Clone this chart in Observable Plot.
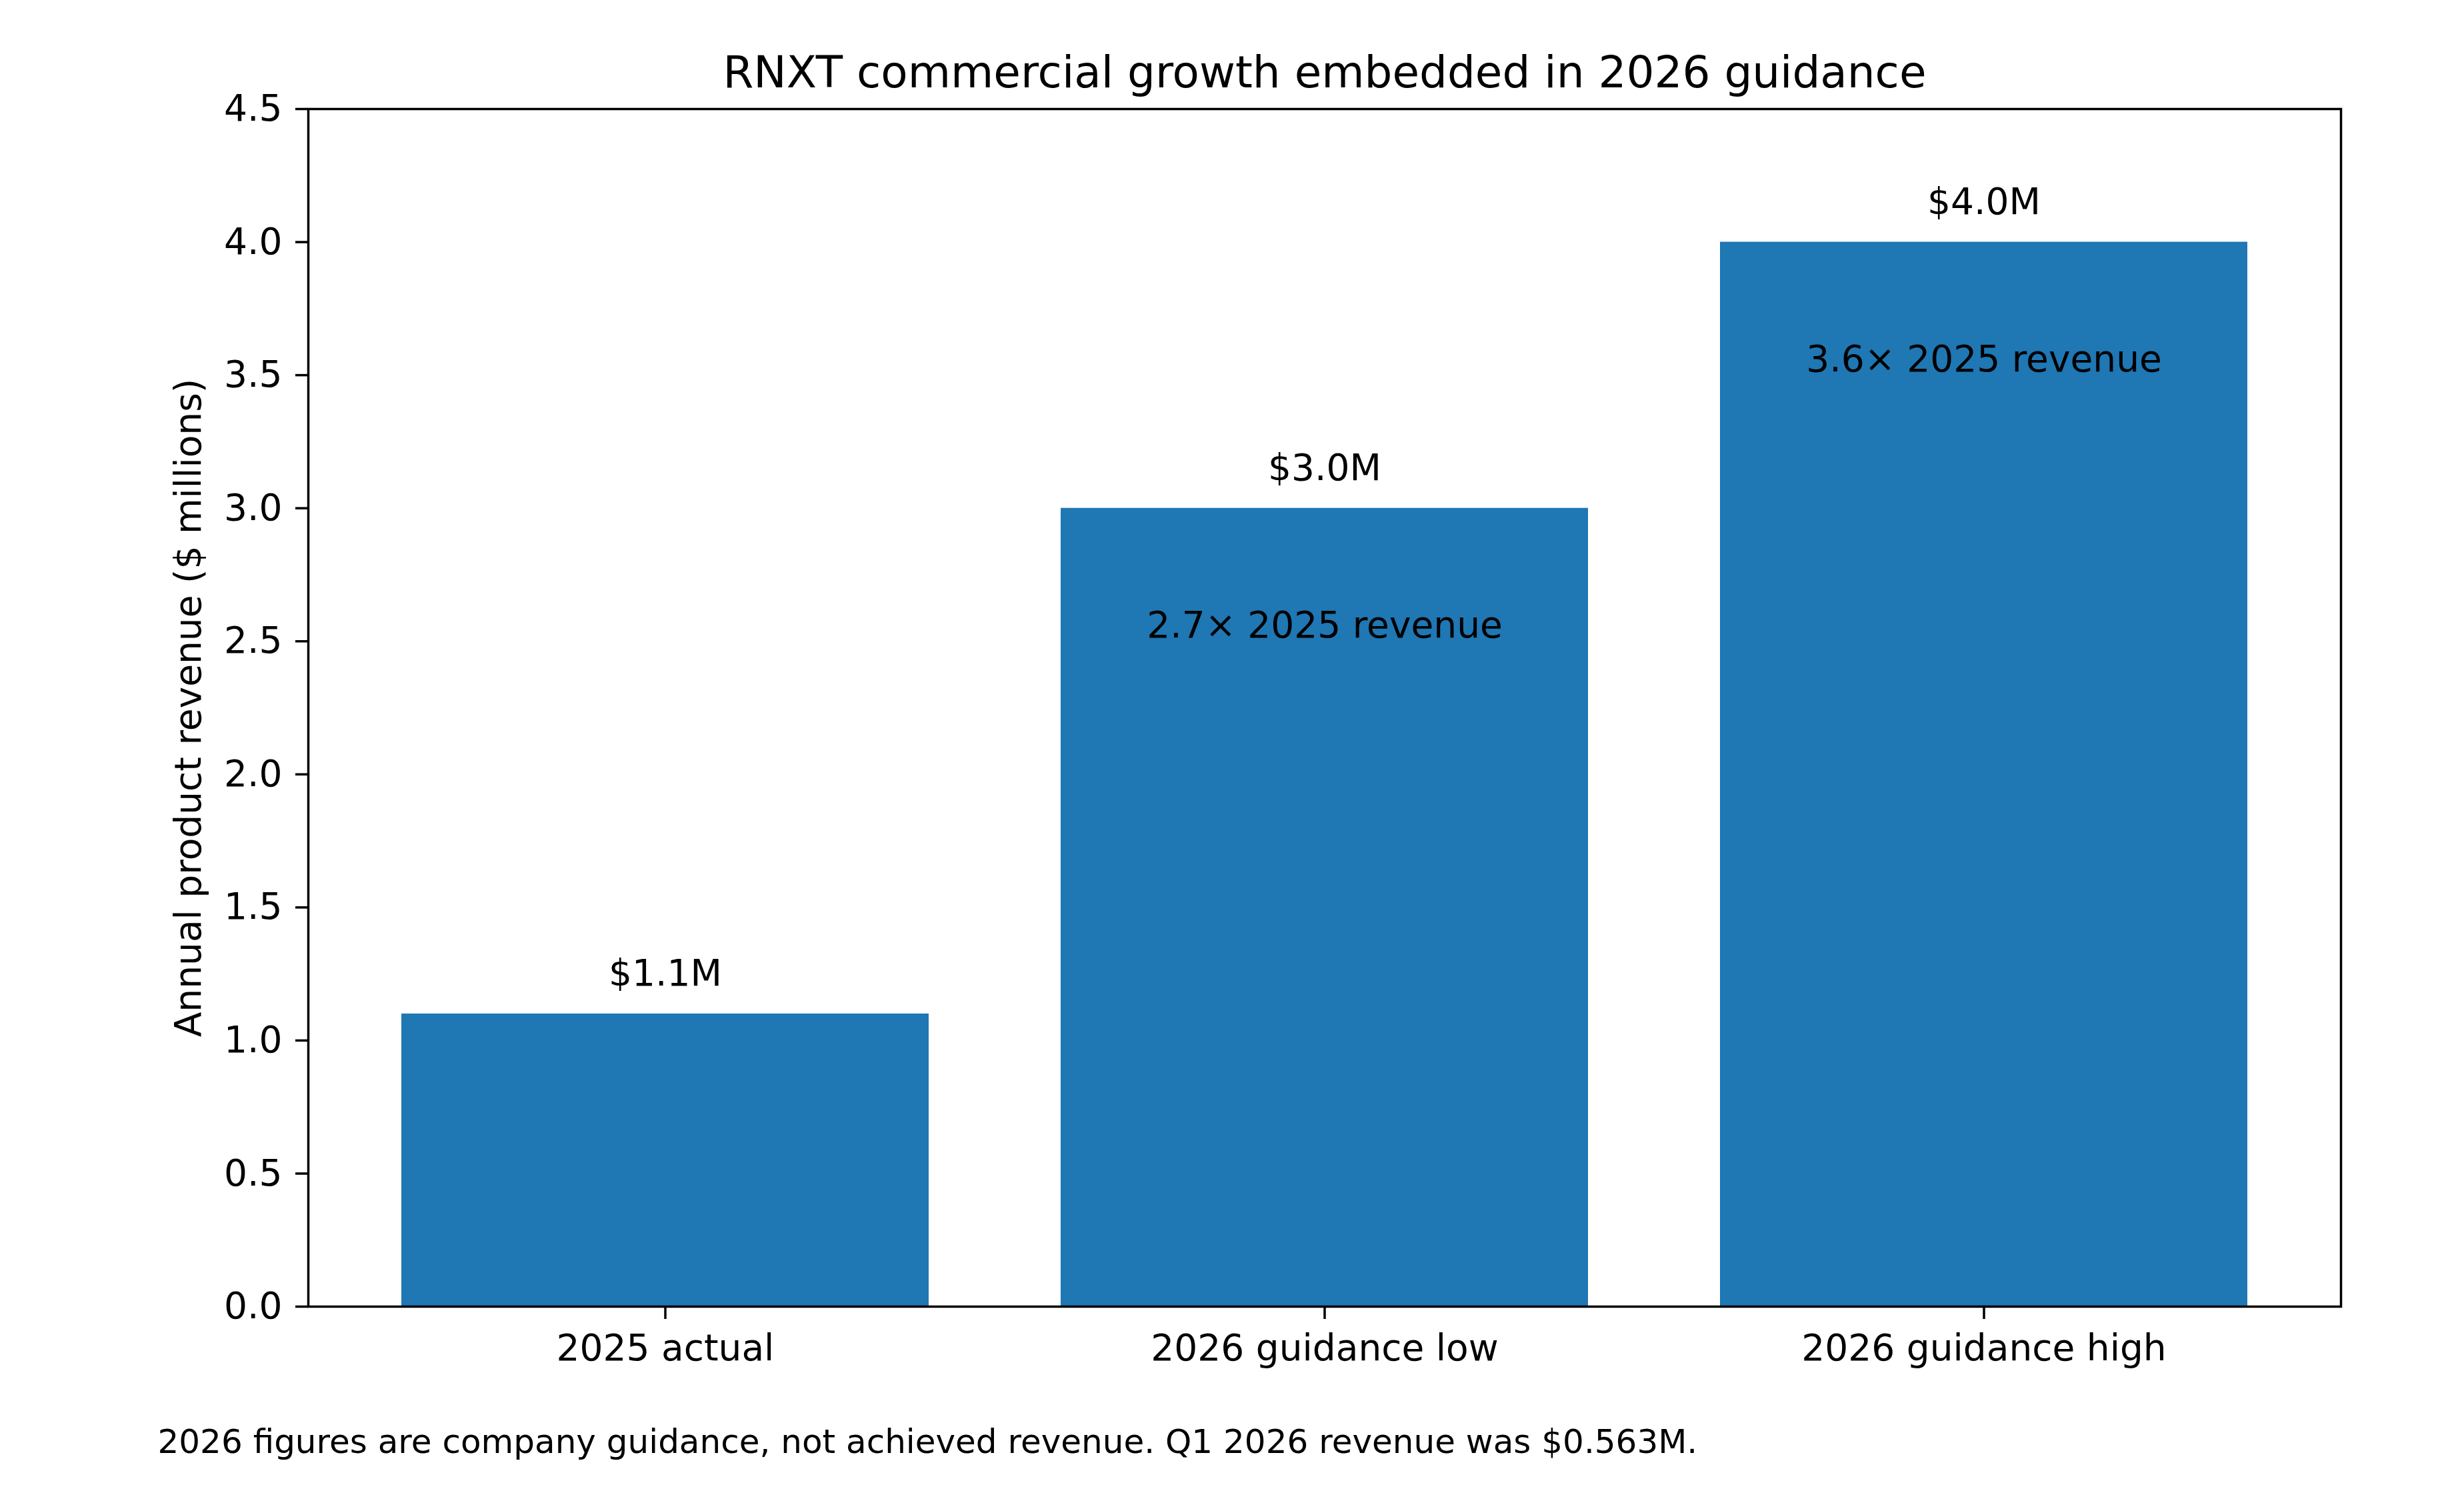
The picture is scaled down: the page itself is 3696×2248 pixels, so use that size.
<!DOCTYPE html>
<html>
<head>
<meta charset="utf-8">
<script src="https://cdn.jsdelivr.net/npm/d3@7"></script>
<script src="https://cdn.jsdelivr.net/npm/@observablehq/plot@0.6"></script>
<style>
  html, body { margin: 0; padding: 0; background: #ffffff; overflow: hidden; }
  #chart svg { display: block; }
</style>
</head>
<body>
<div id="chart"></div>
<script>
const titleText = "RNXT commercial growth embedded in 2026 guidance";
const yLabelText = "Annual product revenue ($ millions)";
const captionText = "2026 figures are company guidance, not achieved revenue. Q1 2026 revenue was $0.563M.";

const categories = ["2025 actual", "2026 guidance low", "2026 guidance high"];
const revenue = [1.1, 3.0, 4.0];
const valueLabels = ["$1.1M", "$3.0M", "$4.0M"];
const multipleLabels = ["", "2.7× 2025 revenue", "3.6× 2025 revenue"];
const yTicks = [0, 0.5, 1.0, 1.5, 2.0, 2.5, 3.0, 3.5, 4.0, 4.5];
const yDomain = [0, 4.5];

const rows = categories.map((c, i) => ({
  category: c,
  revenue: revenue[i],
  valueLabel: valueLabels[i],
  multipleLabel: multipleLabels[i]
}));

const FONT = "DejaVu Sans";
const tickFont = 55;
const titleFont = 66;
const captionFont = 50;

const chart = Plot.plot({
  width: 3696,
  height: 2248,
  marginLeft: 462,
  marginRight: 185,
  marginTop: 163,
  marginBottom: 289,
  style: { fontFamily: FONT, background: "#ffffff", color: "#000000" },
  x: { type: "band", domain: categories, paddingInner: 0.2, paddingOuter: 0.14, label: null },
  y: { domain: yDomain, label: null },
  marks: [
    Plot.barY(rows, { x: "category", y: "revenue", fill: "#1f77b4" }),
    Plot.text(rows, {
      x: "category", y: "revenue", text: "valueLabel",
      lineAnchor: "bottom", dy: -42, fontSize: tickFont, fill: "#000000"
    }),
    Plot.text(rows.filter(d => d.multipleLabel), {
      x: "category", y: "revenue", text: "multipleLabel",
      lineAnchor: "bottom", dy: 194, fontSize: tickFont, fill: "#000000"
    }),
    Plot.axisY({
      ticks: yTicks, tickFormat: d3.format(".1f"), tickSize: 19, tickPadding: 20,
      fontSize: tickFont, strokeWidth: 3.5, label: null
    }),
    Plot.axisX({
      tickSize: 19, tickPadding: 22, fontSize: tickFont, strokeWidth: 3.5, label: null
    }),
    Plot.frame({ stroke: "#000000", strokeWidth: 3.5 }),
    Plot.text([titleText], {
      frameAnchor: "top", dy: -33, lineAnchor: "bottom",
      fontSize: titleFont, fill: "#000000", text: d => d
    }),
    Plot.text([yLabelText], {
      frameAnchor: "left", rotate: -90, dx: -162, lineAnchor: "bottom",
      textAnchor: "middle", fontSize: tickFont, fill: "#000000", text: d => d
    }),
    Plot.text([captionText], {
      frameAnchor: "bottom-left", dx: -226, dy: 219, lineAnchor: "bottom",
      textAnchor: "start", fontSize: captionFont, fill: "#000000", text: d => d
    })
  ]
});

document.getElementById("chart").appendChild(chart);
</script>
</body>
</html>
